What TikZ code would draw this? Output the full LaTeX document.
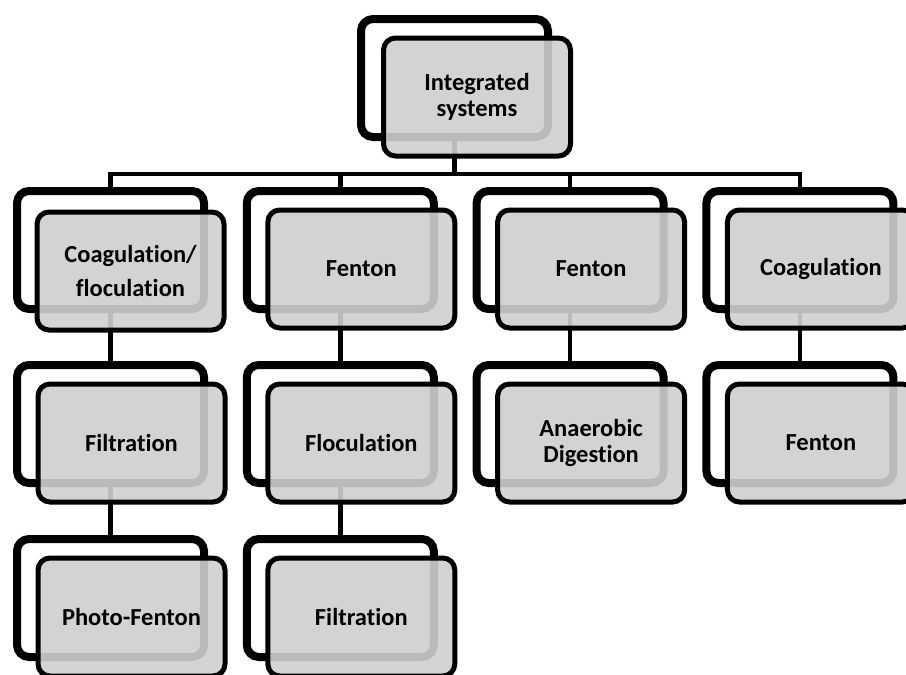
\documentclass[tikz,border=0pt]{standalone}
\usepackage{fontspec}
\setmainfont{Carlito}[Ligatures=NoCommon]
\usetikzlibrary{backgrounds}
\definecolor{boxgray}{gray}{0.81}
\tikzset{
  backbox/.style={draw=black, line width=8pt, fill=white, rounded corners=12pt,
    minimum width=187pt, minimum height=118pt, inner sep=0pt, outer sep=0pt},
  frontbox/.style={draw=black, line width=5pt, fill=boxgray, fill opacity=0.9,
    text opacity=1, rounded corners=12pt, minimum width=187pt, minimum height=118pt,
    inner sep=0pt, outer sep=0pt, align=center,
    font=\bfseries\fontsize{24.5}{26}\selectfont},
  conn/.style={draw=black, line width=4.7pt, line join=miter},
}
\begin{document}
\begin{tikzpicture}[x=1pt,y=-1pt]
\useasboundingbox (0,0) rectangle (906,675);
\clip (0,0) rectangle (906,675);
% top
\node[backbox] (b0) at (454.5,78) {};
\node[frontbox] (f0) at (477,97) {Integrated\\systems};
% column 1
\node[backbox] (b11) at (110.5,250) {};
\node[frontbox] (f11) at (130.5,271) {Coagulation/\\[8pt]floculation};
\node[backbox] (b12) at (110.5,424) {};
\node[frontbox] (f12) at (131.5,443) {Filtration};
\node[backbox] (b13) at (110.5,598) {};
\node[frontbox] (f13) at (131.5,617) {Photo-Fenton};
% column 2
\node[backbox] (b21) at (340.3,250) {};
\node[frontbox] (f21) at (361.3,269) {Fenton};
\node[backbox] (b22) at (340.3,424) {};
\node[frontbox] (f22) at (361.3,443) {Floculation};
\node[backbox] (b23) at (340.3,598) {};
\node[frontbox] (f23) at (361.3,617) {Filtration};
% column 3
\node[backbox] (b31) at (570.1,250) {};
\node[frontbox] (f31) at (591.1,269) {Fenton};
\node[backbox] (b32) at (570.1,424) {};
\node[frontbox] (f32) at (591.1,443) {Anaerobic\\Digestion};
% column 4
\node[backbox] (b41) at (799.9,250) {};
\node[frontbox] (f41) at (820.9,269) {Coagulation};
\node[backbox] (b42) at (799.9,424) {};
\node[frontbox] (f42) at (820.9,443) {Fenton};
% connectors
\coordinate (bus) at (0,174);
\begin{scope}[on background layer]
\draw[conn] (b0.south) -- (b0.south |- bus);
\draw[conn] (b11.north) -- (b11.north |- bus) -- (b41.north |- bus) -- (b41.north);
\draw[conn] (b21.north |- bus) -- (b21.north);
\draw[conn] (b31.north |- bus) -- (b31.north);
\draw[conn] (b11.south) -- (b12.north);
\draw[conn] (b12.south) -- (b13.north);
\draw[conn] (b21.south) -- (b22.north);
\draw[conn] (b22.south) -- (b23.north);
\draw[conn] (b31.south) -- (b32.north);
\draw[conn] (b41.south) -- (b42.north);
\end{scope}
\end{tikzpicture}
\end{document}
